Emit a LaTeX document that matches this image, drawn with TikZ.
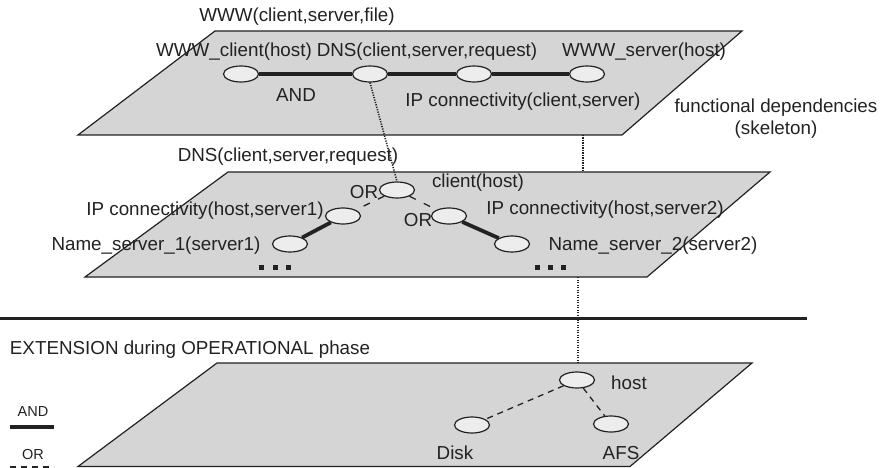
\documentclass[tikz,border=0pt]{standalone}
\usepackage{fontspec}
\setmainfont{Liberation Sans}
\usetikzlibrary{shapes.geometric}
\definecolor{ink}{HTML}{222222}
\definecolor{planefill}{HTML}{D5D5D5}
\definecolor{leaffill}{HTML}{EDEDED}
\begin{document}
\begin{tikzpicture}[x=1pt,y=-1pt,
  plane/.style={draw=ink, line width=1.2pt, fill=planefill, line join=miter},
  leaf/.style={ellipse, draw=ink, line width=1.2pt, fill=leaffill,
    minimum width=35pt, minimum height=16pt, inner sep=0pt},
  lbl/.style={text=ink, font=\fontsize{18.8}{22}\selectfont, inner sep=0pt},
  small/.style={text=ink, font=\fontsize{14.5}{16}\selectfont, inner sep=0pt},
  andedge/.style={draw=ink, line width=3.8pt},
  oredge/.style={draw=ink, line width=1.3pt, dash pattern=on 7pt off 9pt},
  dashedge/.style={draw=ink, line width=1.3pt, dash pattern=on 6pt off 5pt},
  link/.style={draw=ink, line width=1.6pt, dash pattern=on 1.2pt off 1.3pt},
  dotmark/.style={rectangle, fill=ink, minimum size=5pt, inner sep=0pt}
]
\useasboundingbox (0,0) rectangle (886,468);

% ---------- the three planes ----------
\draw[plane] (78,135) -- (215,31) -- (742,31) -- (622,135) -- cycle;
\draw[plane] (85,277) -- (228,172) -- (770,172) -- (647,277) -- cycle;
\draw[plane] (78,466.5) -- (217,363) -- (752,363) -- (630,466.5) -- cycle;

% separator between skeleton and extension
\coordinate (ruleL) at (0,318);
\coordinate (ruleR) at (807,318);
\draw[ink, line width=3pt] (ruleL) -- (ruleR);

% ---------- top plane: WWW(client,server,file) ----------
\node[lbl] (toptitle) at (297,17) {WWW(client,server,file)};
\node[leaf] (wc)  at (241,74) {};
\node[leaf] (dns) at (370,74) {};
\node[leaf] (ip)  at (474,74) {};
\node[leaf] (ws)  at (587,74) {};
\node[lbl] (wcl)  at (234,52) {WWW\_client(host)};
\node[lbl] (dnsl) at (427,52) {DNS(client,server,request)};
\node[lbl] (wsl)  at (644,52) {WWW\_server(host)};
\node[lbl] (andl) at (296,95) {AND};
\node[lbl] (ipl)  at (523,102) {IP connectivity(client,server)};
\node[lbl, align=center] (func) at (776,119) {functional dependencies\\(skeleton)};

\draw[andedge] (wc) -- (dns);
\draw[andedge] (dns) -- (ip);
\draw[andedge] (ip) -- (ws);

% ---------- middle plane: DNS(client,server,request) ----------
\node[lbl] (dns2l) at (288,157) {DNS(client,server,request)};
\node[leaf] (cl)  at (397,190) {};
\node[lbl] (cll) at (478,183) {client(host)};
\node[leaf] (ip1) at (343,216) {};
\node[leaf] (ns1) at (290,244) {};
\node[leaf] (ip2) at (449,216) {};
\node[leaf] (ns2) at (512,244) {};
\node[lbl] (or1) at (364,192) {OR};
\node[lbl] (or2) at (418,220) {OR};
\node[lbl] (ip1l) at (205,211) {IP connectivity(host,server1)};
\node[lbl] (ns1l) at (156,246) {Name\_server\_1(server1)};
\node[lbl] (ip2l) at (605,210) {IP connectivity(host,server2)};
\node[lbl] (ns2l) at (653,246) {Name\_server\_2(server2)};

\draw[oredge] (cl) -- (ip1);
\draw[oredge] (cl) -- (ip2);
\draw[andedge] (ip1) -- (ns1);
\draw[andedge] (ip2) -- (ns2);

\node[dotmark] (d1a) at (261,267) {};
\node[dotmark] (d1b) at (275,267) {};
\node[dotmark] (d1c) at (288,267) {};
\node[dotmark] (d2a) at (537,267) {};
\node[dotmark] (d2b) at (550,267) {};
\node[dotmark] (d2c) at (563,267) {};

% ---------- bottom plane: extension ----------
\node[lbl] (extl) at (190,350) {EXTENSION during OPERATIONAL phase};
\node[leaf] (host) at (577,380) {};
\node[leaf] (disk) at (472,425) {};
\node[leaf] (afs)  at (611,424) {};
\node[lbl] (hostl) at (629,383) {host};
\node[lbl] (diskl) at (455,453) {Disk};
\node[lbl] (afsl)  at (621,453) {AFS};

\draw[dashedge] (host) -- (disk);
\draw[dashedge] (host) -- (afs);

% ---------- dotted refinement links between planes ----------
\coordinate (topB) at (583,135);
\coordinate (midT) at (583,172);
\coordinate (midB) at (578,277);
\coordinate (botT) at (578,363);
\draw[link] (dns.south) -- (cl.north);
\draw[link] (topB) -- (midT);
\draw[link] (midB) -- (botT);

% ---------- legend ----------
\node[small] (legand) at (33,412) {AND};
\node[small] (legor)  at (33,455) {OR};
\coordinate (legA1) at (10,427);
\coordinate (legA2) at (54,427);
\coordinate (legO1) at (10,467);
\coordinate (legO2) at (54,467);
\draw[andedge] (legA1) -- (legA2);
\draw[dashedge] (legO1) -- (legO2);
\end{tikzpicture}
\end{document}
